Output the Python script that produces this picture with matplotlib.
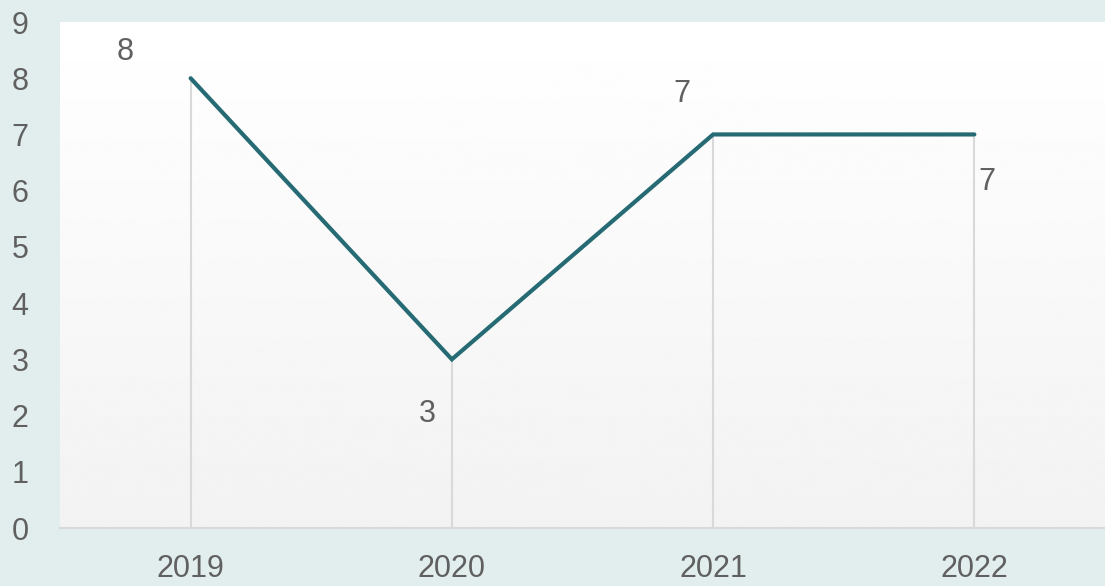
import numpy as np
from matplotlib import pyplot as plt

years = ['2019', '2020', '2021', '2022']
values = [8, 3, 7, 7]
yticks = list(range(0, 10))

plt.rcParams['font.family'] = ['Liberation Sans', 'DejaVu Sans']

fig = plt.figure(figsize=(11.05, 5.86), dpi=100)
fig.patch.set_facecolor('#e2eeee')
ax = fig.add_axes([60/1105, 58/586, 1045/1105, 506/586])

# gradient background of the plot area
grad = np.linspace(1.0, 0.95, 256).reshape(-1, 1)
ax.imshow(grad, cmap='gray', vmin=0, vmax=1, aspect='auto',
          extent=[0, 1, 0, 1], transform=ax.transAxes, zorder=0)

x = np.arange(len(years))
ax.vlines(x, 0, values, colors='#d9d9d9', linewidth=1.5, zorder=1)
ax.plot(x, values, color='#266a73', linewidth=3, solid_capstyle='round',
        solid_joinstyle='miter', zorder=3)

offsets = [(-66, 26), (-25, -55), (-31, 40), (12, -48)]
for xi, v, off in zip(x, values, offsets):
    ax.annotate(str(v), (xi, v), xytext=off, textcoords='offset pixels',
                fontsize=22, color='#606060', ha='center', va='center')

ax.set_xlim(-0.5, 3.5)
ax.set_ylim(0, 9)
ax.set_xticks(x)
ax.set_xticklabels(years)
ax.set_yticks(yticks)
ax.tick_params(axis='both', length=0, labelsize=22, labelcolor='#606060')
ax.tick_params(axis='x', pad=19)
ax.tick_params(axis='y', pad=35)
for lbl in ax.get_yticklabels():
    lbl.set_horizontalalignment('left')

for s in ['top', 'right', 'left']:
    ax.spines[s].set_visible(False)
ax.spines['bottom'].set_color('#d9d9d9')
ax.spines['bottom'].set_linewidth(1.5)

plt.savefig('out.png', dpi=100, facecolor=fig.get_facecolor())
